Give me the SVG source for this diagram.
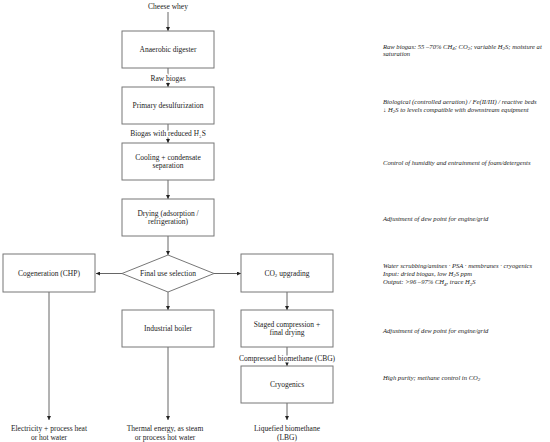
<svg xmlns="http://www.w3.org/2000/svg" width="550" height="442" viewBox="0 0 550 442">
<style>
text{font-family:"Liberation Serif","DejaVu Serif",serif;font-size:7.5px;fill:#222;}
.c{text-anchor:middle;}
.n{fill:#fff;stroke:#777;stroke-width:1;}
.a{font-style:italic;font-size:6.6px;}
.l{stroke:#666;stroke-width:1;fill:none;marker-end:url(#ah);}
.lb{stroke:#fff;stroke-width:3;paint-order:stroke;stroke-linejoin:round;}
.s{font-size:5px;}
</style>
<defs>
<marker id="ah" viewBox="0 0 6 6" refX="6" refY="3" markerWidth="4" markerHeight="4" orient="auto" markerUnits="userSpaceOnUse">
<path d="M0,0 L6,3 L0,6 z" fill="#222"/>
</marker>
</defs>
<rect width="550" height="442" fill="#fff"/>
<g id="connectors">
<line class="l" x1="168" y1="12" x2="168" y2="31"/>
<line class="l" x1="168" y1="68" x2="168" y2="87"/>
<line class="l" x1="168" y1="124" x2="168" y2="143"/>
<line class="l" x1="168" y1="180" x2="168" y2="199"/>
<line class="l" x1="168" y1="236" x2="168" y2="255"/>
<line class="l" x1="122" y1="273.5" x2="96" y2="273.5"/>
<line class="l" x1="214" y1="273.5" x2="241" y2="273.5"/>
<line class="l" x1="168" y1="292" x2="168" y2="310"/>
<line class="l" x1="287" y1="292" x2="287" y2="310"/>
<line class="l" x1="287" y1="347" x2="287" y2="366"/>
<line class="l" x1="287" y1="403" x2="287" y2="420"/>
<line class="l" x1="49" y1="292" x2="49" y2="420"/>
<line class="l" x1="168" y1="347" x2="168" y2="420"/>
</g>
<g id="edge-labels">
<text class="c" x="168" y="9">Cheese whey</text>
<text class="c lb" x="168" y="80.5">Raw biogas</text>
<text class="c lb" x="168" y="136">Biogas with reduced H<tspan class="s" dy="1.5">2</tspan><tspan dy="-1.5">S</tspan></text>
<text class="c lb" x="287" y="360.5">Compressed biomethane (CBG)</text>
<text class="c" x="49" y="431">Electricity + process heat</text>
<text class="c" x="49" y="440">or hot water</text>
<text class="c" x="165" y="431">Thermal energy, as steam</text>
<text class="c" x="165" y="440">or process hot water</text>
<text class="c" x="287" y="431">Liquefied biomethane</text>
<text class="c" x="287" y="440">(LBG)</text>
</g>
<g id="anaerobic-digester">
<rect class="n" x="122" y="31" width="92" height="37"/>
<text class="c" x="168" y="52">Anaerobic digester</text>
</g>
<g id="primary-desulfurization">
<rect class="n" x="122" y="87" width="92" height="37"/>
<text class="c" x="168" y="108">Primary desulfurization</text>
</g>
<g id="cooling">
<rect class="n" x="122" y="143" width="92" height="37"/>
<text class="c" x="168" y="159.5">Cooling + condensate</text>
<text class="c" x="168" y="167.5">separation</text>
</g>
<g id="drying">
<rect class="n" x="122" y="199" width="92" height="37"/>
<text class="c" x="168" y="215.5">Drying (adsorption /</text>
<text class="c" x="168" y="223.5">refrigeration)</text>
</g>
<g id="final-use-selection">
<polygon class="n" points="168,255 214,273.5 168,292 122,273.5"/>
<text class="c" x="168" y="276">Final use selection</text>
</g>
<g id="cogeneration">
<rect class="n" x="3" y="254" width="92" height="38"/>
<text class="c" x="49" y="275.5">Cogeneration (CHP)</text>
</g>
<g id="co2-upgrading">
<rect class="n" x="241" y="254" width="92" height="38"/>
<text class="c" x="287" y="275.5">CO<tspan class="s" dy="1.5">2</tspan><tspan dy="-1.5"> upgrading</tspan></text>
</g>
<g id="industrial-boiler">
<rect class="n" x="122" y="310" width="92" height="37"/>
<text class="c" x="168" y="331">Industrial boiler</text>
</g>
<g id="staged-compression">
<rect class="n" x="241" y="310" width="92" height="37"/>
<text class="c" x="287" y="326.5">Staged compression +</text>
<text class="c" x="287" y="334.5">final drying</text>
</g>
<g id="cryogenics">
<rect class="n" x="241" y="366" width="92" height="37"/>
<text class="c" x="287" y="387">Cryogenics</text>
</g>
<g id="annotations">
<text class="a" x="383" y="48.5">Raw biogas: 55 –70%  CH<tspan class="s" dy="1.5">4</tspan><tspan dy="-1.5">; CO</tspan><tspan class="s" dy="1.5">2</tspan><tspan dy="-1.5">; variable H</tspan><tspan class="s" dy="1.5">2</tspan><tspan dy="-1.5">S; moisture at</tspan></text>
<text class="a" x="383" y="56">saturation</text>
<text class="a" x="383" y="103.5">Biological (controlled aeration) / Fe(II/III) / reactive beds</text>
<text class="a" x="383" y="111.5">↓ H<tspan class="s" dy="1.5">2</tspan><tspan dy="-1.5">S to levels compatible with downstream equipment</tspan></text>
<text class="a" x="383" y="164.5">Control of humidity and entrainment of foam/detergents</text>
<text class="a" x="383" y="220.5">Adjustment of dew point for engine/grid</text>
<text class="a" x="383" y="267.5">Water scrubbing/amines · PSA · membranes · cryogenics</text>
<text class="a" x="383" y="275.5">Input: dried biogas, low H<tspan class="s" dy="1.5">2</tspan><tspan dy="-1.5">S ppm</tspan></text>
<text class="a" x="383" y="284">Output:  &gt;96 –97%  CH<tspan class="s" dy="1.5">4</tspan><tspan dy="-1.5">, trace H</tspan><tspan class="s" dy="1.5">2</tspan><tspan dy="-1.5">S</tspan></text>
<text class="a" x="383" y="332.5">Adjustment of dew point for engine/grid</text>
<text class="a" x="383" y="379.5">High purity; methane control in CO<tspan class="s" dy="1.5">2</tspan></text>
</g>
</svg>
